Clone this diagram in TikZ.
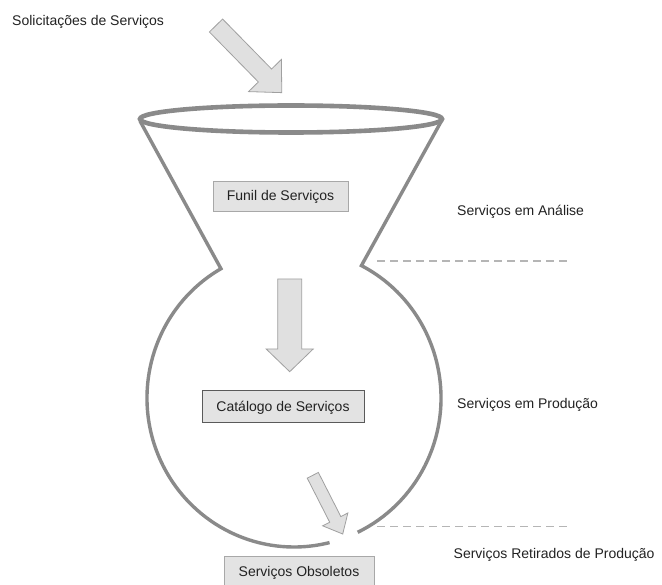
\documentclass[tikz,border=0pt]{standalone}
\usepackage{fontspec}
\setmainfont{Liberation Sans}
\usetikzlibrary{calc}
\definecolor{linegray}{HTML}{8A8A8A}
\definecolor{boxfill}{HTML}{E3E3E3}
\definecolor{boxedge}{HTML}{A8A8A8}
\definecolor{darkedge}{HTML}{5A5A5A}
\definecolor{arrfill}{HTML}{E0E0E0}
\definecolor{arredge}{HTML}{A0A0A0}
\definecolor{dashgray}{HTML}{B5B5B5}
\definecolor{txt}{HTML}{222222}
\newcommand\blockarrow[6]{%
  \begin{scope}[shift={(#1)},rotate=-#2]
    \draw[arrowsty] (0,-#4/2) -- (#3-#6,-#4/2) -- (#3-#6,-#5/2) -- (#3,0)
      -- (#3-#6,#5/2) -- (#3-#6,#4/2) -- (0,#4/2) -- cycle;
  \end{scope}}
\begin{document}
\begin{tikzpicture}[x=1pt,y=-1pt,
  txtsty/.style={font=\fontsize{14}{16}\selectfont, text=txt, inner sep=0pt},
  boxsty/.style={txtsty, draw=boxedge, fill=boxfill, line width=0.8pt,
     text height=10pt, text depth=0pt},
  arrowsty/.style={fill=arrfill, draw=arredge, line width=0.8pt, line join=miter},
  linesty/.style={draw=linegray, line width=3.4pt},
  rimsty/.style={draw=linegray, line width=4.6pt},
  dashsty/.style={draw=dashgray, line width=1.3pt, dash pattern=on 8pt off 5pt}]
\clip (0,0) rectangle (662,585);
\fill[white] (0,0) rectangle (662,585);

% block arrows
\blockarrow{216,25.5}{45.6}{94}{18.5}{46}{24}
\blockarrow{289.7,279}{90}{92.7}{24}{47}{22.7}
\blockarrow{312.8,475.3}{63}{65.9}{12.5}{28.3}{16.4}

% funnel
\coordinate (bc) at (294,398);
\coordinate (fl) at (140,121);
\coordinate (fr) at (442,120);
\draw[linesty] (fl) -- ([shift={(240.2:147 and 149)}]bc)
   arc[start angle=240.2, end angle=76, x radius=147, y radius=149];
\draw[linesty] (fr) -- ([shift={(-62.7:147 and 149)}]bc)
   arc[start angle=-62.7, end angle=64.3, x radius=147, y radius=149];
\draw[rimsty] (291,119) ellipse[x radius=151, y radius=13.5];

% boxes
\node[boxsty, minimum width=135pt, minimum height=30pt] (funil) at (280.5,196) {Funil de Serviços};
\node[boxsty, draw=darkedge, minimum width=162pt, minimum height=31.5pt] (catalogo) at (283,406.5) {Catálogo de Serviços};
\node[boxsty, minimum width=150pt, minimum height=31pt] (obsoletos) at (299,571.5) {Serviços Obsoletos};

% labels
\node[txtsty, anchor=base west] (solic) at (12,26) {Solicitações de Serviços};
\node[txtsty, anchor=base west] (analise) at (457,216) {Serviços em Análise};
\node[txtsty, anchor=base west] (producao) at (457,408.3) {Serviços em Produção};
\node[txtsty, anchor=base west] (retirados) at (453.5,558.3) {Serviços Retirados de Produção};

% dashed separators
\coordinate (d1a) at (377,261);
\coordinate (d1b) at (570,261);
\coordinate (d2a) at (377,526.7);
\coordinate (d2b) at (570,526.7);
\draw[dashsty] (d1a) -- (d1b);
\draw[dashsty] (d2a) -- (d2b);
\end{tikzpicture}
\end{document}
